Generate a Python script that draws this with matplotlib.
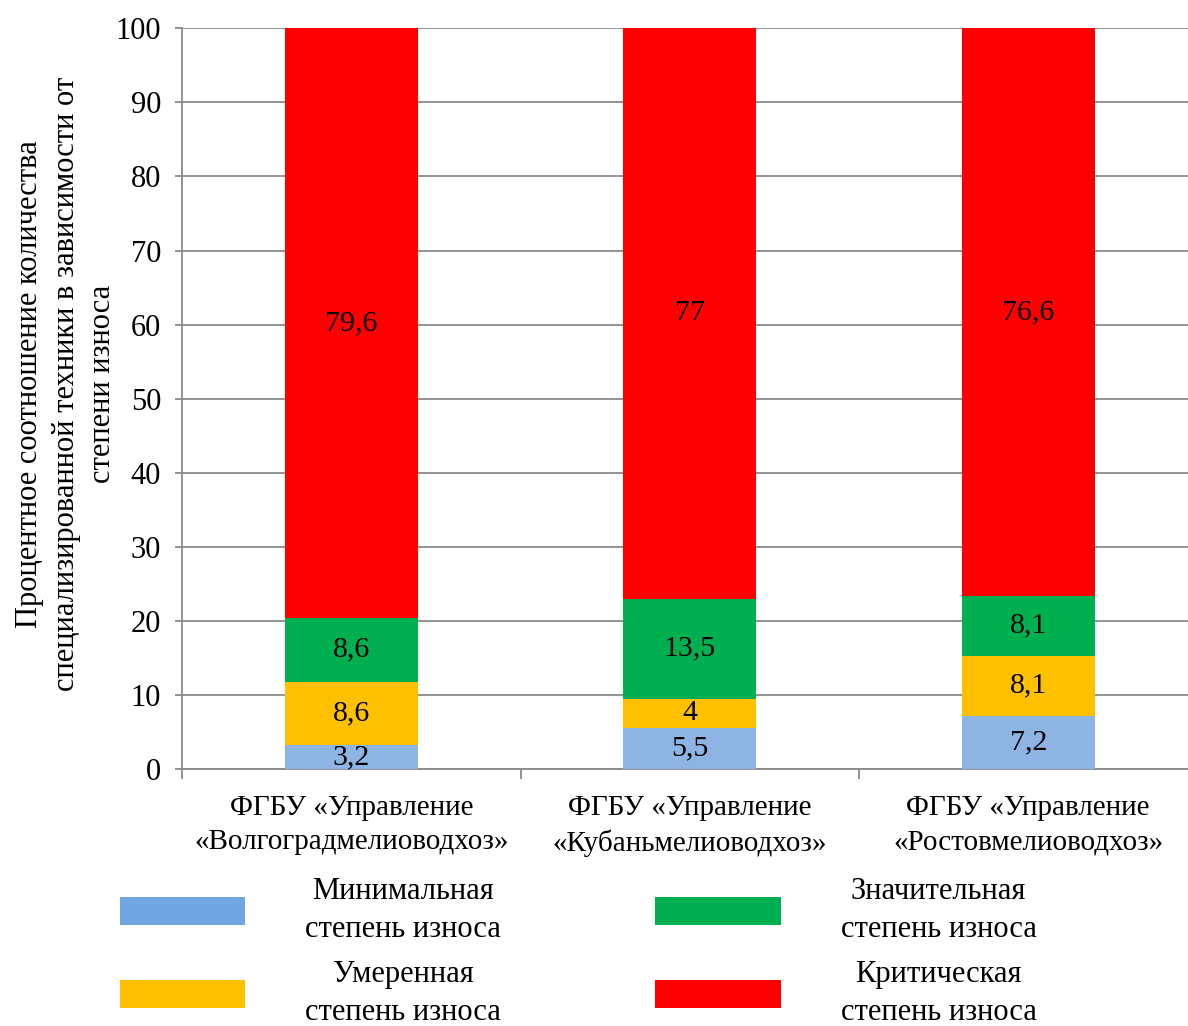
import matplotlib
matplotlib.use("Agg")
import matplotlib.pyplot as plt
import numpy as np
from matplotlib.patches import Patch

plt.rcParams["font.family"] = ["Liberation Serif", "DejaVu Serif"]

CATEGORIES = [
    "ФГБУ «Управление\n«Волгоградмелиоводхоз»",
    "ФГБУ «Управление\n«Кубаньмелиоводхоз»",
    "ФГБУ «Управление\n«Ростовмелиоводхоз»",
]
MINIMAL = [3.2, 5.5, 7.2]
MODERATE = [8.6, 4, 8.1]
SIGNIFICANT = [8.6, 13.5, 8.1]
CRITICAL = [79.6, 77, 76.6]

SERIES_LABELS = [
    "Минимальная\nстепень износа",
    "Умеренная\nстепень износа",
    "Значительная\nстепень износа",
    "Критическая\nстепень износа",
]
BAR_COLORS = ["#8EB4E3", "#FFC000", "#00B050", "#FF0000"]
LEGEND_COLORS = ["#6FA5E0", "#FFC000", "#00B050", "#FF0000"]

Y_LABEL = "Процентное соотношение количества\nспециализированной техники в зависимости от\nстепени износа"

GRID_COLOR = "#8A8A8A"
FONT_SIZE = 22


def fmt(value):
    return f"{value:g}".replace(".", ",")


def main():
    fig = plt.figure(figsize=(11.88, 10.26), dpi=100)
    ax = fig.add_axes([182 / 1188, 1 - 769 / 1026, 1015.5 / 1188, 740.7 / 1026])

    x = np.arange(len(CATEGORIES))
    bottom = np.zeros(len(CATEGORIES))
    for values, color in zip([MINIMAL, MODERATE, SIGNIFICANT, CRITICAL], BAR_COLORS):
        values = np.array(values, dtype=float)
        ax.bar(x, values, 0.393, bottom=bottom, color=color, zorder=3)
        for xi, b, v in zip(x, bottom, values):
            ax.text(xi, b + v / 2, fmt(v), ha="center", va="center",
                    fontsize=21.5, zorder=4)
        bottom += values

    ax.set_xlim(-0.5, 2.5)
    ax.set_ylim(0, 100)
    ax.set_yticks(range(0, 101, 10))
    ax.yaxis.grid(True, color=GRID_COLOR, linewidth=1.3, zorder=0)
    ax.set_axisbelow(True)

    ax.set_xticks(x)
    ax.set_xticklabels(CATEGORIES, fontsize=21, linespacing=1.4)
    ax.set_xticks([-0.5, 0.5, 1.5, 2.5], minor=True)
    ax.tick_params(axis="x", which="major", length=0, pad=19)
    ax.tick_params(axis="x", which="minor", length=7, width=1.3, color=GRID_COLOR)
    ax.tick_params(axis="y", length=5, width=1.3, color=GRID_COLOR,
                   labelsize=FONT_SIZE, pad=10)

    for side in ("top", "right"):
        ax.spines[side].set_visible(False)
    for side in ("left", "bottom"):
        ax.spines[side].set_color(GRID_COLOR)
        ax.spines[side].set_linewidth(1.3)

    ax.set_ylabel(Y_LABEL, fontsize=FONT_SIZE, linespacing=1.33, ha="center", va="center")
    ax.yaxis.set_label_coords(-0.114, 0.52)

    handles = [Patch(facecolor=c) for c in LEGEND_COLORS]
    leg = fig.legend(
        handles, SERIES_LABELS, ncol=2, frameon=False,
        loc="upper left", bbox_to_anchor=(120 / 1188, 1 - 877 / 1026),
        fontsize=FONT_SIZE, handlelength=4.1, handleheight=1.05,
        handletextpad=1.96, columnspacing=5.05, labelspacing=0.5, borderpad=0,
        borderaxespad=0,
    )
    for t in leg.get_texts():
        t.set_multialignment("center")
        t.set_linespacing(1.42)

    fig.savefig("out.png", dpi=100)
    plt.close(fig)


if __name__ == "__main__":
    main()
